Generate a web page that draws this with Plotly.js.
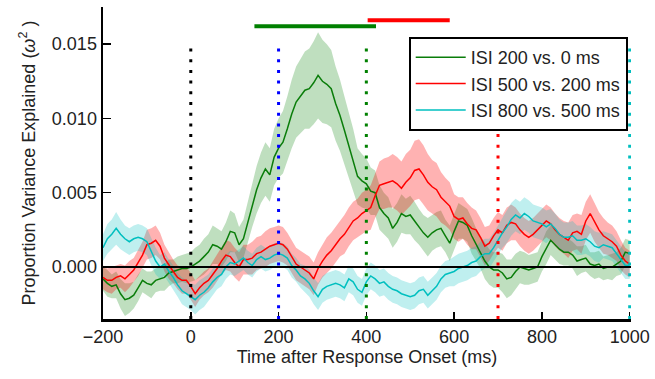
<!DOCTYPE html>
<html>
<head>
<meta charset="utf-8">
<script src="https://cdn.plot.ly/plotly-3.0.1.min.js"></script>
<style>html,body{margin:0;padding:0;background:#fff;}#chart{width:655px;height:379px;}</style>
</head>
<body>
<div id="chart"></div>
<script>
// sample times (ms), 10 ms grid from -200 to 1000
const time = [];
for (let t = -200; t <= 1000; t += 10) time.push(t);

const seriesNames = ['ISI 200 vs. 0 ms', 'ISI 500 vs. 200 ms', 'ISI 800 vs. 500 ms'];

const green = [
 -0.0008,-0.0011,-0.0013,-0.0012,-0.0018,-0.0022,-0.0021,-0.0019,-0.0014,-0.0009,
 -0.0011,-0.0012,-0.0009,-0.0008,-0.0007,-0.0004,-0.0003,-0.0002,-0.0001,-0.0001,
 0.0000,0.0002,0.0004,0.0007,0.0010,0.0015,0.0014,0.0012,0.0017,0.0024,
 0.0023,0.0015,0.0019,0.0030,0.0042,0.0052,0.0060,0.0066,0.0062,0.0074,
 0.0080,0.0084,0.0093,0.0103,0.0111,0.0115,0.0119,0.0120,0.0124,0.0129,
 0.0125,0.0123,0.0120,0.0110,0.0102,0.0092,0.0082,0.0072,0.0061,0.0058,
 0.0056,0.0051,0.0050,0.0040,0.0036,0.0033,0.0026,0.0030,0.0036,0.0034,
 0.0035,0.0031,0.0027,0.0023,0.0020,0.0023,0.0025,0.0026,0.0021,0.0016,
 0.0024,0.0031,0.0030,0.0028,0.0021,0.0015,0.0010,0.0004,0.0000,-0.0002,
 -0.0002,-0.0004,-0.0008,-0.0007,-0.0003,0.0000,-0.0001,-0.0002,-0.0001,0.0000,
 0.0007,0.0013,0.0018,0.0015,0.0012,0.0010,0.0010,0.0008,0.0004,0.0005,
 0.0006,0.0002,0.0001,0.0002,-0.0001,0.0000,0.0000,0.0002,0.0004,0.0010,
 0.0009
];
const greenErr = [
 0.0008,0.0009,0.0008,0.0009,0.0010,0.0011,0.0010,0.0009,0.0009,0.0008,
 0.0008,0.0009,0.0008,0.0008,0.0009,0.0009,0.0008,0.0009,0.0009,0.0010,
 0.0010,0.0011,0.0011,0.0012,0.0012,0.0013,0.0012,0.0012,0.0013,0.0014,
 0.0013,0.0012,0.0013,0.0014,0.0015,0.0016,0.0017,0.0018,0.0018,0.0019,
 0.0020,0.0021,0.0022,0.0023,0.0024,0.0025,0.0026,0.0027,0.0028,0.0029,
 0.0028,0.0027,0.0026,0.0025,0.0024,0.0023,0.0022,0.0021,0.0019,0.0018,
 0.0017,0.0016,0.0015,0.0015,0.0014,0.0014,0.0013,0.0013,0.0013,0.0012,
 0.0013,0.0013,0.0012,0.0012,0.0013,0.0012,0.0012,0.0012,0.0011,0.0012,
 0.0012,0.0012,0.0011,0.0011,0.0012,0.0011,0.0011,0.0012,0.0012,0.0012,
 0.0012,0.0013,0.0013,0.0012,0.0012,0.0011,0.0011,0.0010,0.0010,0.0010,
 0.0010,0.0011,0.0010,0.0010,0.0010,0.0009,0.0009,0.0009,0.0010,0.0009,
 0.0009,0.0008,0.0009,0.0009,0.0008,0.0008,0.0009,0.0008,0.0009,0.0009,
 0.0009
];

const red = [
 -0.0007,-0.0009,-0.0009,-0.0007,-0.0006,-0.0008,-0.0005,-0.0002,0.0003,0.0008,
 0.0015,0.0016,0.0018,0.0014,0.0006,0.0001,-0.0003,-0.0007,-0.0009,-0.0009,
 -0.0013,-0.0018,-0.0014,-0.0011,-0.0009,-0.0005,-0.0001,0.0004,0.0008,0.0007,
 0.0003,0.0000,0.0005,0.0005,0.0006,0.0009,0.0010,0.0012,0.0014,0.0015,
 0.0016,0.0015,0.0012,0.0007,0.0002,0.0000,-0.0002,-0.0004,-0.0008,-0.0001,
 0.0004,0.0008,0.0011,0.0015,0.0019,0.0022,0.0027,0.0031,0.0033,0.0036,
 0.0038,0.0040,0.0048,0.0055,0.0056,0.0057,0.0058,0.0056,0.0053,0.0057,
 0.0060,0.0065,0.0066,0.0062,0.0057,0.0054,0.0052,0.0047,0.0044,0.0041,
 0.0034,0.0032,0.0033,0.0029,0.0026,0.0025,0.0020,0.0014,0.0016,0.0021,
 0.0025,0.0023,0.0028,0.0030,0.0029,0.0025,0.0022,0.0020,0.0022,0.0025,
 0.0028,0.0031,0.0029,0.0025,0.0022,0.0020,0.0018,0.0023,0.0024,0.0022,
 0.0031,0.0036,0.0030,0.0025,0.0021,0.0019,0.0017,0.0014,0.0008,0.0004,
 0.0002
];
const redErr = [
 0.0008,0.0008,0.0009,0.0008,0.0008,0.0009,0.0009,0.0008,0.0009,0.0009,
 0.0010,0.0010,0.0010,0.0009,0.0009,0.0009,0.0008,0.0008,0.0009,0.0009,
 0.0009,0.0009,0.0008,0.0008,0.0008,0.0009,0.0009,0.0009,0.0010,0.0010,
 0.0010,0.0010,0.0010,0.0010,0.0011,0.0011,0.0011,0.0012,0.0012,0.0012,
 0.0012,0.0012,0.0011,0.0011,0.0011,0.0011,0.0011,0.0011,0.0011,0.0011,
 0.0011,0.0012,0.0012,0.0012,0.0012,0.0013,0.0013,0.0013,0.0013,0.0014,
 0.0014,0.0015,0.0015,0.0016,0.0017,0.0017,0.0018,0.0018,0.0018,0.0019,
 0.0019,0.0020,0.0020,0.0020,0.0019,0.0018,0.0018,0.0017,0.0016,0.0016,
 0.0015,0.0015,0.0014,0.0014,0.0014,0.0013,0.0013,0.0013,0.0012,0.0012,
 0.0012,0.0012,0.0012,0.0012,0.0011,0.0011,0.0011,0.0011,0.0011,0.0011,
 0.0011,0.0011,0.0011,0.0011,0.0011,0.0011,0.0012,0.0012,0.0012,0.0013,
 0.0013,0.0013,0.0013,0.0012,0.0012,0.0011,0.0011,0.0010,0.0010,0.0009,
 0.0009
];

const cyan = [
 0.0013,0.0019,0.0022,0.0026,0.0022,0.0019,0.0017,0.0019,0.0020,0.0019,
 0.0017,0.0010,0.0004,0.0000,0.0002,-0.0003,-0.0007,-0.0012,-0.0016,-0.0018,
 -0.0020,-0.0022,-0.0019,-0.0017,-0.0014,-0.0010,-0.0007,-0.0005,0.0000,0.0003,
 0.0002,0.0004,0.0006,0.0003,0.0001,0.0005,0.0007,0.0005,0.0006,0.0008,
 0.0009,0.0008,0.0006,0.0001,-0.0002,-0.0006,-0.0008,-0.0011,-0.0016,-0.0020,
 -0.0015,-0.0013,-0.0012,-0.0011,-0.0012,-0.0014,-0.0008,-0.0010,-0.0015,-0.0017,
 -0.0010,-0.0006,-0.0008,-0.0011,-0.0010,-0.0013,-0.0015,-0.0016,-0.0018,-0.0019,
 -0.0020,-0.0019,-0.0016,-0.0015,-0.0019,-0.0016,-0.0013,-0.0008,-0.0005,-0.0004,
 -0.0003,-0.0001,0.0000,0.0001,0.0003,0.0004,0.0007,0.0009,0.0009,0.0013,
 0.0018,0.0023,0.0027,0.0032,0.0035,0.0033,0.0036,0.0034,0.0031,0.0030,
 0.0029,0.0027,0.0029,0.0026,0.0022,0.0020,0.0020,0.0021,0.0018,0.0018,
 0.0019,0.0017,0.0014,0.0013,0.0015,0.0014,0.0013,0.0009,0.0005,0.0001,
 0.0001
];
const cyanErr = [
 0.0009,0.0010,0.0010,0.0011,0.0010,0.0009,0.0009,0.0009,0.0009,0.0009,
 0.0009,0.0009,0.0009,0.0008,0.0008,0.0008,0.0008,0.0008,0.0009,0.0009,
 0.0009,0.0010,0.0010,0.0010,0.0009,0.0009,0.0008,0.0008,0.0008,0.0008,
 0.0008,0.0008,0.0008,0.0008,0.0008,0.0008,0.0008,0.0008,0.0008,0.0008,
 0.0008,0.0008,0.0008,0.0008,0.0008,0.0008,0.0009,0.0009,0.0009,0.0009,
 0.0009,0.0009,0.0009,0.0009,0.0009,0.0009,0.0009,0.0009,0.0009,0.0009,
 0.0009,0.0009,0.0009,0.0009,0.0009,0.0009,0.0009,0.0009,0.0009,0.0009,
 0.0009,0.0009,0.0009,0.0009,0.0009,0.0009,0.0009,0.0009,0.0009,0.0009,
 0.0010,0.0010,0.0010,0.0010,0.0010,0.0010,0.0010,0.0010,0.0010,0.0010,
 0.0010,0.0010,0.0011,0.0011,0.0011,0.0011,0.0011,0.0011,0.0011,0.0011,
 0.0011,0.0011,0.0010,0.0010,0.0010,0.0010,0.0010,0.0010,0.0010,0.0010,
 0.0010,0.0010,0.0010,0.0010,0.0009,0.0009,0.0009,0.0009,0.0009,0.0009,
 0.0009
];

// event markers (ms) and significance bars
const eventTimes = [0, 200, 400, 700, 1000];
const eventColors = ['#000000', '#0000ff', '#008000', '#ff0000', '#00bfbf'];
const eventTop = 0.0152;
const sigBars = [
  {start: 145, end: 422, level: 0.0162, color: '#008000'},
  {start: 403, end: 590, level: 0.0166, color: '#ff0000'}
];

const colors = ['#0a7d0a', '#ff0000', '#00bfbf'];
const fills = ['rgba(0,128,0,0.25)', 'rgba(255,0,0,0.3)', 'rgba(0,191,191,0.25)'];
const allSeries = [green, red, cyan];
const allErr = [greenErr, redErr, cyanErr];

const traces = [];
allSeries.forEach((s, i) => {
  const up = s.map((v, k) => v + allErr[i][k]);
  const lo = s.map((v, k) => v - allErr[i][k]);
  traces.push({
    x: time.concat(time.slice().reverse()),
    y: up.concat(lo.slice().reverse()),
    type: 'scatter', mode: 'lines', fill: 'toself',
    fillcolor: fills[i], line: {width: 0, color: fills[i]},
    showlegend: false, hoverinfo: 'skip'
  });
});
allSeries.forEach((s, i) => {
  traces.push({
    x: time, y: s, type: 'scatter', mode: 'lines',
    name: seriesNames[i], line: {color: colors[i], width: 1.5}
  });
});

const shapes = [];
eventTimes.forEach((t, i) => {
  shapes.push({type: 'line', xref: 'x', yref: 'y', x0: t, x1: t, y0: -0.0035, y1: eventTop,
    line: {color: eventColors[i], width: 3, dash: '3px,7.7px'}, layer: 'above'});
});
shapes.push({type: 'line', xref: 'paper', yref: 'y', x0: 0, x1: 1, y0: 0, y1: 0,
  line: {color: '#000', width: 2}, layer: 'above'});
sigBars.forEach(b => {
  shapes.push({type: 'line', xref: 'x', yref: 'y', x0: b.start, x1: b.end, y0: b.level, y1: b.level,
    line: {color: b.color, width: 4}, layer: 'above'});
});

const font = {family: '"Liberation Sans", Arial, sans-serif', size: 18, color: '#222'};

const layout = {
  width: 655, height: 379,
  margin: {l: 103, r: 24, t: 7, b: 60},
  paper_bgcolor: '#fff', plot_bgcolor: '#fff',
  font: font,
  showlegend: true,
  legend: {x: 0.579, y: 0.904, xanchor: 'left', yanchor: 'top', itemwidth: 50,
    bgcolor: '#fff', bordercolor: '#000', borderwidth: 2, font: font},
  xaxis: {
    range: [-200, 1003], tickvals: [-200, 0, 200, 400, 600, 800, 1000],
    ticks: 'inside', ticklen: 7, tickwidth: 1.5, tickcolor: '#000',
    showline: true, linecolor: '#000', linewidth: 2.5,
    showgrid: false, zeroline: false,
    title: {text: 'Time after Response Onset (ms)', font: font, standoff: 5}
  },
  yaxis: {
    range: [-0.0035, 0.0175], tickvals: [0, 0.005, 0.010, 0.015], tickformat: '.3f',
    ticks: 'inside', ticklen: 8, tickwidth: 1.5, tickcolor: '#000',
    showline: true, linecolor: '#000', linewidth: 2.5,
    showgrid: false, zeroline: false,
    title: {text: 'Proportion Variance Explained (<i>ω</i><sup>2</sup> )', font: font, standoff: 12}
  },
  shapes: shapes
};

Plotly.newPlot('chart', traces, layout, {displayModeBar: false, staticPlot: true});
</script>
</body>
</html>
